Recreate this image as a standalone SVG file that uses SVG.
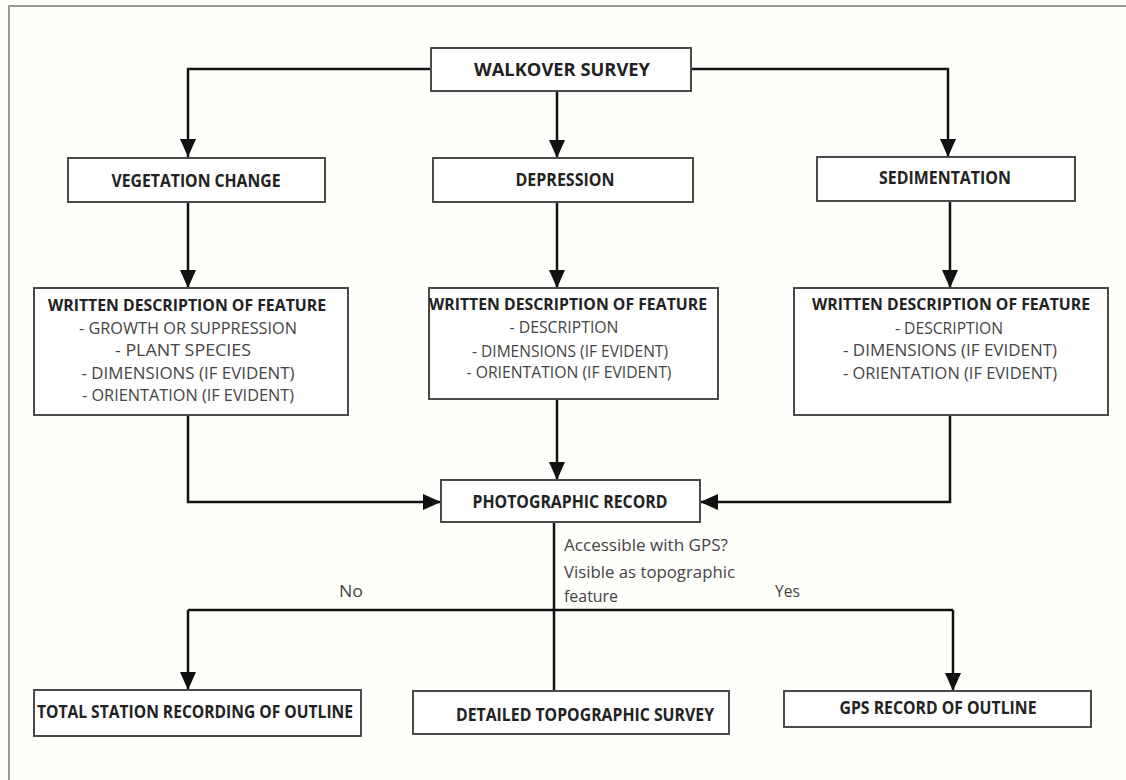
<svg xmlns="http://www.w3.org/2000/svg" width="1126" height="780" viewBox="0 0 1126 780">
<defs>
<marker id="arr" viewBox="0 0 18 16" refX="18" refY="8" markerWidth="18" markerHeight="16" markerUnits="userSpaceOnUse" orient="auto">
<path d="M0,0 L18,8 L0,16 Z" fill="#111"/>
</marker>
<style>
.box{fill:#fff;stroke:#4a4a4a;stroke-width:2}
.t{font-family:"Open Sans","Liberation Sans",sans-serif;font-weight:bold;font-size:17px;fill:#222;text-anchor:middle}
.w{font-family:"Open Sans","Liberation Sans",sans-serif;font-weight:bold;font-size:15.5px;fill:#222;text-anchor:middle}
.s{font-family:"Open Sans","Liberation Sans",sans-serif;font-size:16px;fill:#444;text-anchor:middle}
.l{font-family:"Open Sans","Liberation Sans",sans-serif;font-size:16.5px;fill:#444}
.c{fill:none;stroke:#111;stroke-width:2.5}
</style>
</defs>
<rect width="1126" height="780" fill="#fefefb"/>
<path d="M9,780 V6 H1126" fill="none" stroke="#9a9a9a" stroke-width="2"/>

<g id="connectors">
<path class="c" d="M431,69 H188 V157" marker-end="url(#arr)"/>
<path class="c" d="M691,69 H948 V157" marker-end="url(#arr)"/>
<path class="c" d="M557,91 V158" marker-end="url(#arr)"/>
<path class="c" d="M188,202 V288" marker-end="url(#arr)"/>
<path class="c" d="M557,202 V288" marker-end="url(#arr)"/>
<path class="c" d="M950,201 V288" marker-end="url(#arr)"/>
<path class="c" d="M188,415 V502 H441" marker-end="url(#arr)"/>
<path class="c" d="M557,399 V480" marker-end="url(#arr)"/>
<path class="c" d="M950,415 V502 H700" marker-end="url(#arr)"/>
<path class="c" d="M554,522 V691"/>
<path class="c" d="M188,610 H953"/>
<path class="c" d="M188,610 V690" marker-end="url(#arr)"/>
<path class="c" d="M953,610 V691" marker-end="url(#arr)"/>
<text class="l" x="564" y="551" textLength="164" lengthAdjust="spacingAndGlyphs">Accessible with GPS?</text>
<text class="l" x="564" y="578" textLength="171" lengthAdjust="spacingAndGlyphs">Visible as topographic</text>
<text class="l" x="564" y="602" textLength="54" lengthAdjust="spacingAndGlyphs">feature</text>
<text class="l" x="339" y="597" textLength="24" lengthAdjust="spacingAndGlyphs">No</text>
<text class="l" x="775" y="597" textLength="25" lengthAdjust="spacingAndGlyphs">Yes</text>
</g>

<g id="walkover">
<rect class="box" x="431" y="48" width="260" height="43"/>
<text class="t" x="562" y="76" textLength="176" lengthAdjust="spacingAndGlyphs">WALKOVER SURVEY</text>
</g>
<g id="vegetation">
<rect class="box" x="68" y="158" width="257" height="44"/>
<text class="t" x="196" y="187" textLength="169" lengthAdjust="spacingAndGlyphs">VEGETATION CHANGE</text>
</g>
<g id="depression">
<rect class="box" x="433" y="158" width="260" height="44"/>
<text class="t" x="565" y="186" textLength="99" lengthAdjust="spacingAndGlyphs">DEPRESSION</text>
</g>
<g id="sedimentation">
<rect class="box" x="817" y="157" width="258" height="44"/>
<text class="t" x="945" y="184" textLength="132" lengthAdjust="spacingAndGlyphs">SEDIMENTATION</text>
</g>

<g id="desc-left">
<rect class="box" x="34" y="288" width="314" height="127"/>
<text class="w" x="187" y="311" textLength="278" lengthAdjust="spacingAndGlyphs">WRITTEN DESCRIPTION OF FEATURE</text>
<text class="s" x="188" y="334" textLength="218" lengthAdjust="spacingAndGlyphs">- GROWTH OR SUPPRESSION</text>
<text class="s" x="183" y="356" textLength="136" lengthAdjust="spacingAndGlyphs">-  PLANT SPECIES</text>
<text class="s" x="188" y="379" textLength="213" lengthAdjust="spacingAndGlyphs">-  DIMENSIONS (IF EVIDENT)</text>
<text class="s" x="188" y="401" textLength="212" lengthAdjust="spacingAndGlyphs">- ORIENTATION (IF EVIDENT)</text>
</g>
<g id="desc-middle">
<rect class="box" x="429" y="288" width="289" height="111"/>
<text class="w" x="568" y="310" textLength="278" lengthAdjust="spacingAndGlyphs">WRITTEN DESCRIPTION OF FEATURE</text>
<text class="s" x="564" y="333" textLength="109" lengthAdjust="spacingAndGlyphs">- DESCRIPTION</text>
<text class="s" x="570" y="357" textLength="196" lengthAdjust="spacingAndGlyphs">- DIMENSIONS (IF EVIDENT)</text>
<text class="s" x="569" y="378" textLength="205" lengthAdjust="spacingAndGlyphs">- ORIENTATION (IF EVIDENT)</text>
</g>
<g id="desc-right">
<rect class="box" x="794" y="288" width="314" height="127"/>
<text class="w" x="951" y="310" textLength="278" lengthAdjust="spacingAndGlyphs">WRITTEN DESCRIPTION OF FEATURE</text>
<text class="s" x="949" y="334" textLength="108" lengthAdjust="spacingAndGlyphs">- DESCRIPTION</text>
<text class="s" x="950" y="356" textLength="214" lengthAdjust="spacingAndGlyphs">-  DIMENSIONS (IF EVIDENT)</text>
<text class="s" x="950" y="379" textLength="214" lengthAdjust="spacingAndGlyphs">- ORIENTATION (IF EVIDENT)</text>
</g>

<g id="photographic">
<rect class="box" x="441" y="480" width="259" height="42"/>
<text class="t" x="570" y="508" textLength="195" lengthAdjust="spacingAndGlyphs">PHOTOGRAPHIC RECORD</text>
</g>

<g id="total-station">
<rect class="box" x="34" y="690" width="327" height="46"/>
<text class="t" x="195" y="718" textLength="316" lengthAdjust="spacingAndGlyphs">TOTAL STATION RECORDING OF OUTLINE</text>
</g>
<g id="detailed-topo">
<rect class="box" x="413" y="691" width="316" height="43"/>
<text class="t" x="585" y="721" textLength="258" lengthAdjust="spacingAndGlyphs">DETAILED TOPOGRAPHIC SURVEY</text>
</g>
<g id="gps-record">
<rect class="box" x="784" y="691" width="307" height="36"/>
<text class="t" x="938" y="714" textLength="197" lengthAdjust="spacingAndGlyphs">GPS RECORD OF OUTLINE</text>
</g>
</svg>
